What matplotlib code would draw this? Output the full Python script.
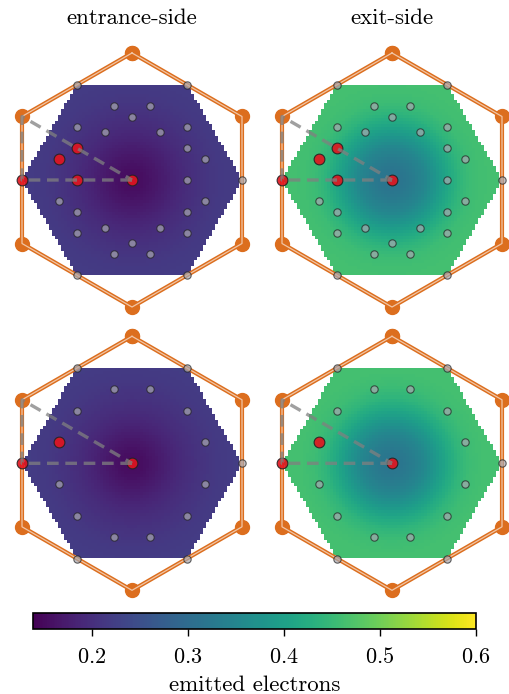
import numpy as np
import matplotlib
matplotlib.use("Agg")
import matplotlib.pyplot as plt
from matplotlib.colors import Normalize

plt.rcParams['font.family'] = ['cmr10', 'DejaVu Serif']
plt.rcParams['mathtext.fontset'] = 'cm'
plt.rcParams['axes.formatter.use_mathtext'] = True

# -----------------------------------------------------------
# data
# -----------------------------------------------------------
titles = ["entrance-side", "exit-side"]

# radial profiles of the emitted electrons (distance from centre -> value)
prof_r = [0.0, 0.1, 0.2, 0.3, 0.4, 0.5, 0.6, 0.7, 0.8, 0.9, 1.0]
prof_entr_top = [0.152, 0.156, 0.165, 0.176, 0.187, 0.196, 0.204, 0.210, 0.215, 0.218, 0.220]
prof_exit_top = [0.315, 0.319, 0.332, 0.352, 0.382, 0.412, 0.438, 0.454, 0.460, 0.462, 0.462]
prof_entr_bot = [0.152, 0.156, 0.166, 0.178, 0.189, 0.198, 0.205, 0.211, 0.216, 0.219, 0.221]
prof_exit_bot = [0.317, 0.321, 0.334, 0.355, 0.385, 0.415, 0.440, 0.455, 0.461, 0.462, 0.462]

# probe points, top row
top_gray_x = [0.5, 0.25, -0.25, -0.25, 0.25,
              0.5, 0.0, -0.5, 0.0, 0.5,
              0.666, 0.5, 0.168, -0.168, -0.5, -0.666, -0.5, -0.168, 0.168, 0.5, 0.666,
              1.0, 0.5, -0.5, -0.5, 0.5]
top_gray_y = [0.0, 0.433, 0.433, -0.433, -0.433,
              0.289, 0.577, -0.289, -0.577, -0.289,
              0.191, 0.480, 0.672, 0.672, 0.480, -0.191, -0.480, -0.672, -0.672, -0.480, -0.191,
              0.0, 0.866, 0.866, -0.866, -0.866]
top_red_x = [0.0, -1.0, -0.5, -0.5, -0.666]
top_red_y = [0.0, 0.0, 0.0, 0.289, 0.191]

# probe points, bottom row
bot_gray_x = [0.666, 0.5, 0.168, -0.168, -0.5, -0.666, -0.5, -0.168, 0.168, 0.5, 0.666,
              1.0, 0.5, -0.5, -0.5, 0.5]
bot_gray_y = [0.191, 0.480, 0.672, 0.672, 0.480, -0.191, -0.480, -0.672, -0.672, -0.480, -0.191,
              0.0, 0.866, 0.866, -0.866, -0.866]
bot_red_x = [0.0, -1.0, -0.666]
bot_red_y = [0.0, 0.0, 0.191]

vmin, vmax = 0.1385, 0.6
orange = '#dc6e1e'

# -----------------------------------------------------------
# geometry
# -----------------------------------------------------------
R_out = 2 / np.sqrt(3)
ang = np.deg2rad(np.arange(90, 90 + 361, 60))
hex_x = R_out * np.cos(ang)
hex_y = R_out * np.sin(ang)

wedge_x = [0.0, -1.0, -1.0, 0.0]
wedge_y = [0.0, 0.0, R_out / 2, 0.0]

N = 73
edges = np.linspace(-1, 1, N + 1)
cen = 0.5 * (edges[:-1] + edges[1:])
CX, CY = np.meshgrid(cen, cen)
RR = np.hypot(CX, CY)
inside = (np.abs(CY) <= np.sqrt(3) / 2) & (np.abs(CY) <= np.sqrt(3) * (1 - np.abs(CX)))

panels = [
    (prof_entr_top, top_gray_x, top_gray_y, top_red_x, top_red_y),
    (prof_exit_top, top_gray_x, top_gray_y, top_red_x, top_red_y),
    (prof_entr_bot, bot_gray_x, bot_gray_y, bot_red_x, bot_red_y),
    (prof_exit_bot, bot_gray_x, bot_gray_y, bot_red_x, bot_red_y),
]

W, H = 509, 694
fig = plt.figure(figsize=(W / 100, H / 100), dpi=100)

centres = [(132, 180), (392, 180), (132, 463.3), (392, 463.3)]
norm = Normalize(vmin=vmin, vmax=vmax)

for i, (prof, gx, gy, rx, ry) in enumerate(panels):
    cx, cy = centres[i]
    ax = fig.add_axes([(cx - 121) / W, (H - cy - 137.5) / H, 242 / W, 275 / H])
    ax.set_xlim(-1.1, 1.1)
    ax.set_ylim(-1.25, 1.25)
    ax.set_aspect('equal')
    ax.axis('off')

    Z = np.interp(RR, prof_r, prof)
    Z = np.ma.masked_where(~inside, Z)
    mesh = ax.pcolormesh(edges, edges, Z, cmap='viridis', norm=norm, zorder=1)

    # outer hexagon
    ax.plot(hex_x, hex_y, '-', color=orange, lw=3.0, marker='o', ms=10, zorder=2)
    ax.plot(hex_x, hex_y, '-', color='white', lw=0.9, alpha=0.6, zorder=3)

    ax.scatter(gx, gy, s=28, c='#a8a8b0', alpha=0.7, edgecolors='#222222', linewidths=0.8, zorder=4)
    ax.scatter(rx, ry, s=60, c='#e3141e', alpha=0.9, edgecolors='#222222', linewidths=0.8, zorder=5)

    ax.plot(wedge_x, wedge_y, '--', color='gray', lw=2.4, alpha=0.75, dashes=(3.5, 2), zorder=6)

    if i < 2:
        fig.text(cx / W, 1 - 18 / H, titles[i], ha='center', va='center', fontsize=16.5)

cax = fig.add_axes([33 / W, 1 - 629 / H, 443 / W, 16 / H])
cb = fig.colorbar(mesh, cax=cax, orientation='horizontal')
cb.set_ticks([0.2, 0.3, 0.4, 0.5, 0.6])
cb.ax.tick_params(labelsize=16, length=5, width=1, pad=8)
cb.outline.set_linewidth(1.2)
cb.set_label('emitted electrons', fontsize=16.5, labelpad=6)

fig.savefig('out.png', dpi=100)
